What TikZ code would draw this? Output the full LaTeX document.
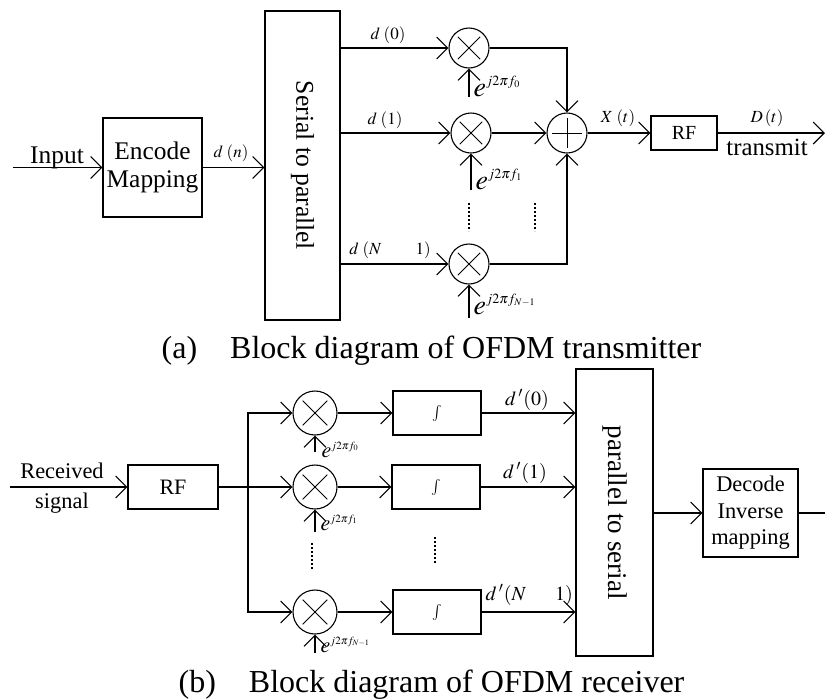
\documentclass[tikz,border=0pt]{standalone}
\usepackage{mathptmx}
\usepackage{fontspec}
\setmainfont{Liberation Serif}
\usepackage{graphicx}
\usetikzlibrary{arrows.meta, positioning}
\newcommand{\fsz}[1]{\fontsize{#1}{1.2\dimexpr#1pt\relax}\selectfont}
\newcommand{\expo}[2]{$e^{\hbox{\fsz{#1}$j2\pi f_{#2}$}}$}

\begin{document}
\begin{tikzpicture}[>={Straight Barb[length=5.5pt,width=11pt]}, line width=0.55pt, x=0.5pt, y=-0.5pt,
  blk/.style={draw, inner sep=0pt, align=center},
  mult/.style={draw, circle, minimum size=#1, inner sep=0pt, path picture={
    \draw[line width=0.45pt] ([shift={(-0.28*#1,-0.28*#1)}]path picture bounding box.center) -- ([shift={(0.28*#1,0.28*#1)}]path picture bounding box.center);
    \draw[line width=0.45pt] ([shift={(-0.28*#1,0.28*#1)}]path picture bounding box.center) -- ([shift={(0.28*#1,-0.28*#1)}]path picture bounding box.center);}},
  mult/.default=20pt,
  sumnode/.style={draw, circle, minimum size=20pt, inner sep=0pt, path picture={
    \draw[line width=0.4pt] ([xshift=-7.5pt]path picture bounding box.center) -- ([xshift=7.5pt]path picture bounding box.center);
    \draw[line width=0.4pt] ([yshift=-7.5pt]path picture bounding box.center) -- ([yshift=7.5pt]path picture bounding box.center);}},
  sig/.style={font=\fsz{8.5}, inner sep=0pt},
  rsig/.style={font=\fsz{10}, inner sep=0pt},
  osc/.style={anchor=base west, inner sep=0pt, font=\fsz{14}},
  rosc/.style={anchor=base west, inner sep=0pt, font=\fsz{11}},
  vdots/.style={line width=0.9pt, dash pattern=on 0.9pt off 1.1pt},
  captxt/.style={anchor=base, inner sep=0pt, font=\fsz{16}}]
  \useasboundingbox (0,0) rectangle (825,698);

  % (a) transmitter
  \coordinate (in) at (13,167.5);
  \node[anchor=base, inner sep=0pt, font=\fsz{12.7}] (inlbl) at (57,163) {Input};
  \node[blk, minimum width=49.5pt, minimum height=49.5pt, font=\fsz{12.7}] (enc) at (152.5,167.5) {Encode\\[-1.5pt]Mapping};
  \node[blk, minimum width=37.5pt, minimum height=154.5pt, font=\fsz{12.8}] (sp) at (302.5,165.5) {\rotatebox{-90}{Serial to parallel}};
  \draw[->] (in) -- (enc);
  \draw[->] (enc.east) -- (enc.east -| sp.west);
  \node[sig] (ldn) at (231,153) {$d\;(n)$};

  \node[mult] (m0) at (469,48) {};
  \node[mult] (m1) at (471,133) {};
  \node[mult] (m2) at (469,264) {};
  \draw[->] (sp.east |- m0) -- (m0);
  \draw[->] (sp.east |- m1) -- (m1);
  \draw[->] (sp.east |- m2) -- (m2);
  \node[sig] (l0) at (388,35) {$d\;(0)$};
  \node[sig] (l1) at (385,120) {$d\;(1)$};
  \node[sig] (l2) at (390,250) {$d\;(N\qquad 1)$};

  \coordinate (lo0) at (469,97);
  \coordinate (lo1) at (471,190);
  \coordinate (lo2) at (469,318);
  \draw[->] (lo0) -- (m0);
  \draw[->] (lo1) -- (m1);
  \draw[->] (lo2) -- (m2);
  \node[osc] (e0) at (473,96) {\expo{7}{0}};
  \node[osc] (e1) at (475,189) {\expo{7}{1}};
  \node[osc] (e2) at (473,314) {\expo{7}{N-1}};
  \draw[vdots] (469,203) -- (469,231);
  \draw[vdots] (535,203) -- (535,231);

  \node[sumnode] (sum) at (567,133) {};
  \draw[->] (m0) -- (m0 -| sum) -- (sum);
  \draw[->] (m1) -- (sum);
  \draw[->] (m2) -- (m2 -| sum) -- (sum);

  \node[blk, minimum width=33pt, minimum height=17pt, font=\fsz{10}] (rf) at (684,133) {RF};
  \draw[->] (sum) -- (rf);
  \node[sig] (lx) at (618,118) {$X\;(t)$};
  \coordinate (out) at (825,133);
  \draw[->] (rf) -- (out);
  \node[sig] (ld) at (767,118) {$D\,(t)$};
  \node[anchor=base, inner sep=0pt, font=\fsz{12.4}] (tx) at (767,155) {transmit};

  \node[captxt] (capa) at (431.5,358) {(a)\hspace{16.5pt}Block diagram of OFDM transmitter};

  % (b) receiver
  \coordinate (rin) at (10,487);
  \node[align=center, inner sep=0pt, font=\fontsize{11.2}{15}\selectfont] (recv) at (62,488) {Received\\signal};
  \node[blk, minimum width=45pt, minimum height=22pt, font=\fsz{11}] (rrf) at (173,487) {RF};
  \draw[->] (rin) -- (rrf);
  \coordinate (bus) at (248,487);

  \node[mult=22pt] (r0) at (315,413) {};
  \node[mult=22pt] (r1) at (315,487) {};
  \node[mult=22pt] (r2) at (315,612) {};
  \draw (rrf) -- (bus);
  \draw[->] (bus) |- (r0);
  \draw[->] (bus) -- (r1);
  \draw[->] (bus) |- (r2);

  \coordinate (rlo0) at (315,452);
  \coordinate (rlo1) at (315,532);
  \coordinate (rlo2) at (315,653);
  \draw[->] (rlo0) -- (r0);
  \draw[->] (rlo1) -- (r1);
  \draw[->] (rlo2) -- (r2);
  \node[rosc] (re0) at (321,457) {\expo{5.5}{0}};
  \node[rosc] (re1) at (320,530) {\expo{5.5}{1}};
  \node[rosc] (re2) at (320,652) {\expo{5.5}{N-1}};
  \draw[vdots] (312,543) -- (312,569);

  \node[blk, minimum width=44pt, minimum height=22pt, font=\fsz{8}] (i0) at (437,413) {$\int$};
  \node[blk, minimum width=44pt, minimum height=22pt, font=\fsz{8}] (i1) at (436,487) {$\int$};
  \node[blk, minimum width=44pt, minimum height=22pt, font=\fsz{8}] (i2) at (437,612) {$\int$};
  \draw[->] (r0) -- (i0);
  \draw[->] (r1) -- (i1);
  \draw[->] (r2) -- (i2);
  \draw[vdots] (435,537) -- (435,563);

  \node[blk, minimum width=38.5pt, minimum height=143.5pt, font=\fsz{13.5}] (ps) at (614.5,512.5) {\rotatebox{-90}{parallel to serial}};
  \draw[->] (i0) -- (i0 -| ps.west);
  \draw[->] (i1) -- (i1 -| ps.west);
  \draw[->] (i2) -- (i2 -| ps.west);
  \node[rsig] (rl0) at (527,400) {$d\,'(0)$};
  \node[rsig] (rl1) at (525,473) {$d\,'(1)$};
  \node[rsig, anchor=west] (rl2) at (485,595) {$d\,'(N\quad\;\; 1)$};

  \node[blk, minimum width=47.5pt, minimum height=44pt, font=\fontsize{11.2}{13.3}\selectfont] (dec) at (750.5,513) {Decode\\Inverse\\mapping};
  \draw[->] (ps.east |- dec) -- (dec);
  \coordinate (rout) at (825,513);
  \draw (dec) -- (rout);

  \node[captxt] (capb) at (431.5,692) {(b)\hspace{16.5pt}Block diagram of OFDM receiver};
\end{tikzpicture}
\end{document}
